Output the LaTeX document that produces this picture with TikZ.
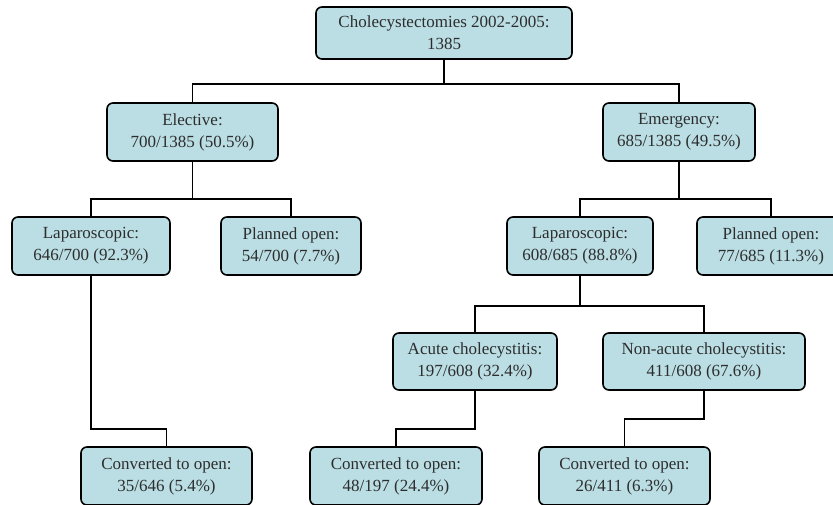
\documentclass[tikz,border=0pt]{standalone}
\usepackage{fontspec}
\setmainfont{Liberation Serif}
\newfontfamily\boxfont{Liberation Serif}
\definecolor{boxfill}{RGB}{186,222,228}
\definecolor{txt}{RGB}{45,45,45}
\begin{document}
\begin{tikzpicture}[x=1pt,y=-1pt,
  box/.style={draw=black, line width=1.6pt, fill=boxfill, rounded corners=6pt,
    align=center, inner sep=0pt, text=txt,
    font=\boxfont\fontsize{17}{22}\selectfont},
  conn/.style={draw=black, line width=1.5pt}]
\useasboundingbox (0,0) rectangle (833,504);
\clip (0,0) rectangle (833,504);
\node[box, minimum width=256pt, minimum height=52pt] (top) at (444,33) {Cholecystectomies 2002-2005:\\1385};
\node[box, minimum width=171pt, minimum height=58pt] (elective) at (192.5,132) {Elective:\\700/1385 (50.5\%)};
\node[box, minimum width=152pt, minimum height=58pt] (emergency) at (679,132) {Emergency:\\685/1385 (49.5\%)};
\node[box, minimum width=158pt, minimum height=58pt] (lapL) at (91,246) {Laparoscopic:\\646/700 (92.3\%)};
\node[box, minimum width=140pt, minimum height=58pt] (openL) at (291,246) {Planned open:\\54/700 (7.7\%)};
\node[box, minimum width=146pt, minimum height=58pt] (lapR) at (580,246) {Laparoscopic:\\608/685 (88.8\%)};
\node[box, minimum width=148pt, minimum height=58pt] (openR) at (771,246) {Planned open:\\77/685 (11.3\%)};
\node[box, minimum width=164pt, minimum height=57pt] (acute) at (475,361.5) {Acute cholecystitis:\\197/608 (32.4\%)};
\node[box, minimum width=202pt, minimum height=57pt] (nonacute) at (704,361.5) {Non-acute cholecystitis:\\411/608 (67.6\%)};
\node[box, minimum width=171pt, minimum height=58pt] (convL) at (166.5,476) {Converted to open:\\35/646 (5.4\%)};
\node[box, minimum width=172pt, minimum height=58pt] (convM) at (396,476) {Converted to open:\\48/197 (24.4\%)};
\node[box, minimum width=171pt, minimum height=58pt] (convR) at (624.5,476) {Converted to open:\\26/411 (6.3\%)};
\draw[conn] (top.south) -- ++(0,24) -| (elective.north);
\draw[conn] (top.south) -- ++(0,24) -| (emergency.north);
\draw[conn] (elective.south) -- ++(0,37) -| (lapL.north);
\draw[conn] (elective.south) -- ++(0,37) -| (openL.north);
\draw[conn] (emergency.south) -- ++(0,37) -| (lapR.north);
\draw[conn] (emergency.south) -- ++(0,37) -| (openR.north);
\draw[conn] (lapR.south) -- ++(0,30) -| (acute.north);
\draw[conn] (lapR.south) -- ++(0,30) -| (nonacute.north);
\draw[conn] (lapL.south) -- ++(0,153) -| (convL.north);
\draw[conn] (acute.south) -- ++(0,38) -| (convM.north);
\draw[conn] (nonacute.south) -- ++(0,28) -| (convR.north);
\end{tikzpicture}
\end{document}
